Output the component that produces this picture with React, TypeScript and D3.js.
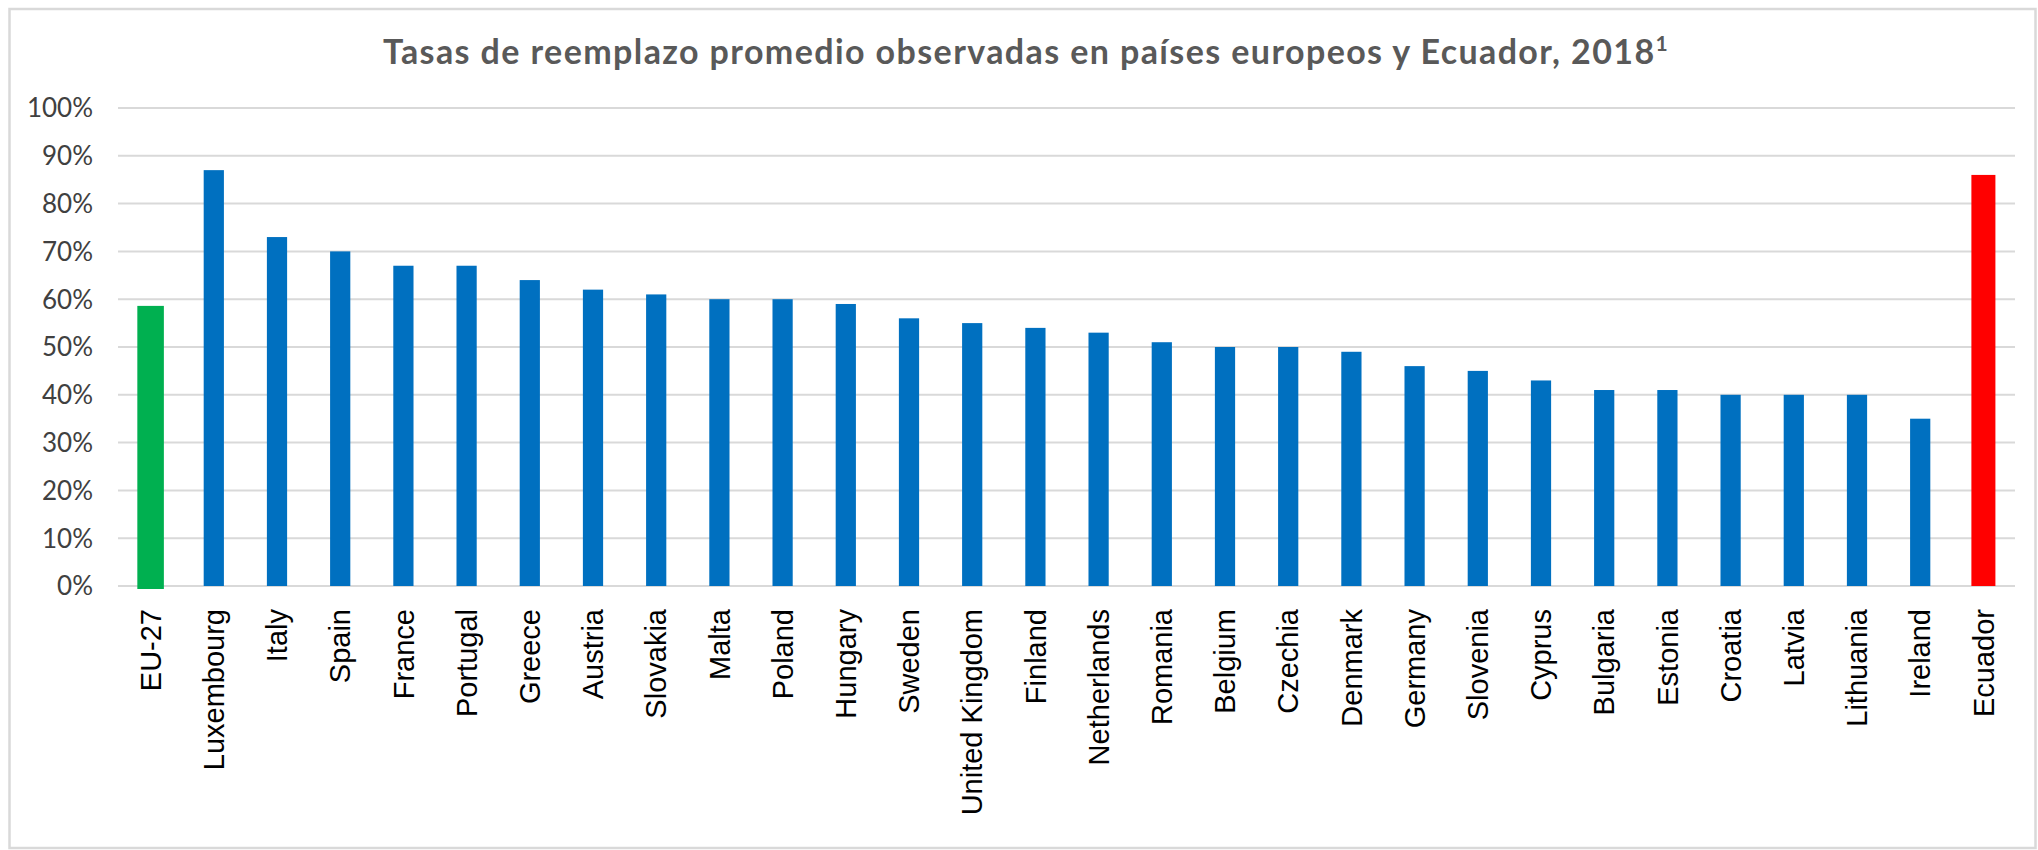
import React from "react";
import * as d3 from "d3";

const categories = [
  "EU-27", "Luxembourg", "Italy", "Spain", "France", "Portugal", "Greece", "Austria",
  "Slovakia", "Malta", "Poland", "Hungary", "Sweden", "United Kingdom", "Finland",
  "Netherlands", "Romania", "Belgium", "Czechia", "Denmark", "Germany", "Slovenia",
  "Cyprus", "Bulgaria", "Estonia", "Croatia", "Latvia", "Lithuania", "Ireland", "Ecuador",
];
const values = [
  0.586, 0.87, 0.73, 0.70, 0.67, 0.67, 0.64, 0.62,
  0.61, 0.60, 0.60, 0.59, 0.56, 0.55, 0.54,
  0.53, 0.51, 0.50, 0.50, 0.49, 0.46, 0.45,
  0.43, 0.41, 0.41, 0.40, 0.40, 0.40, 0.35, 0.86,
];
const yTicks = [0, 0.1, 0.2, 0.3, 0.4, 0.5, 0.6, 0.7, 0.8, 0.9, 1.0];
const titleMain = "Tasas de reemplazo promedio observadas en países europeos y Ecuador, 2018";
const titleSup = "1";

const W = 2038;
const H = 850;
const plot = { left: 119, right: 2015, top: 108, bottom: 586 };

const colorFor = (c: string) =>
  c === "EU-27" ? "#00B050" : c === "Ecuador" ? "#FF0000" : "#0070C0";
const widthFrac = (c: string) =>
  c === "EU-27" ? 0.42 : c === "Ecuador" ? 0.38 : 0.32;

export default function App() {
  const x = d3.scaleBand<string>().domain(categories).range([plot.left, plot.right]).padding(0);
  const y = d3.scaleLinear().domain([0, 1]).range([plot.bottom, plot.top]);
  const fmt = d3.format(".0%");

  return (
    <svg
      width={W}
      height={H}
      style={{ position: "absolute", left: 0, top: 0, background: "#fff" }}
    >
      <rect x={0} y={0} width={W} height={H} fill="#fff" />
      <rect x={9.5} y={9} width={2026} height={839} fill="#fff" stroke="#d9d9d9" strokeWidth={2.5} />
      <text
        x={1026}
        y={64}
        textAnchor="middle"
        fontFamily="Lato, 'Open Sans', sans-serif"
        fontWeight={700}
        fontSize={34}
        letterSpacing={1.4}
        fill="#595959"
      >
        {titleMain}
        <tspan fontSize={21} dy={-13}>{titleSup}</tspan>
      </text>
      {yTicks.map((t) => (
        <g key={t}>
          <line
            x1={plot.left - 1}
            x2={plot.right}
            y1={y(t)}
            y2={y(t)}
            stroke="#d9d9d9"
            strokeWidth={2}
          />
          <text
            x={93}
            y={y(t)}
            dy="0.36em"
            textAnchor="end"
            fontFamily="Lato, 'Open Sans', sans-serif"
            fontSize={26}
            fill="#404040"
          >
            {fmt(t)}
          </text>
        </g>
      ))}
      {categories.map((c, i) => {
        const bw = x.bandwidth() * widthFrac(c);
        const cx = (x(c) as number) + x.bandwidth() / 2;
        return (
          <rect
            key={c}
            x={cx - bw / 2}
            y={y(values[i])}
            width={bw}
            height={y(0) - y(values[i]) + (c === "EU-27" ? 3 : 0)}
            fill={colorFor(c)}
          />
        );
      })}
      {categories.map((c) => {
        const cx = (x(c) as number) + x.bandwidth() / 2;
        return (
          <text
            key={c}
            transform={`translate(${cx},${plot.bottom + 23}) rotate(-90)`}
            textAnchor="end"
            dy="0.35em"
            fontFamily="'Liberation Sans', Arial, sans-serif"
            fontSize={29}
            fill="#000"
          >
            {c}
          </text>
        );
      })}
    </svg>
  );
}
